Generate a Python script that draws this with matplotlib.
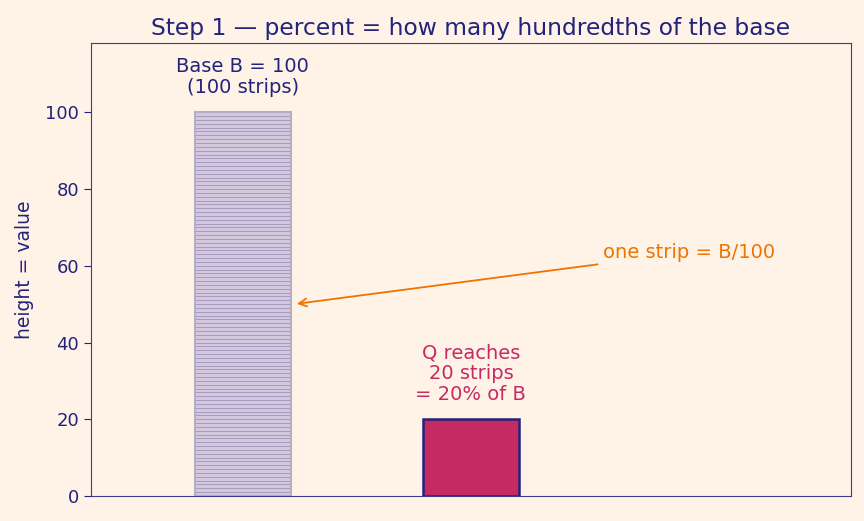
import matplotlib.pyplot as plt
import numpy as np

base_value = 100
part_value = 20
n_strips = 100
positions = [0, 1]
bar_width = 0.42

navy = "#22237a"
bg = "#fff3e8"
crimson = "#c62a62"
orange = "#ef7300"

fig, ax = plt.subplots(figsize=(8.64, 5.21), dpi=100)
fig.patch.set_facecolor(bg)
ax.set_facecolor(bg)

# base bar built from 100 thin strips
strip = base_value / n_strips
ax.bar(np.full(n_strips, positions[0]), np.full(n_strips, strip),
       bottom=np.arange(n_strips) * strip, width=bar_width,
       color="#d3c8de", edgecolor="#9c90b8", linewidth=0.5)
ax.bar(positions[0], base_value, width=bar_width, fill=False,
       edgecolor="#b8aec4", linewidth=1.5)

ax.bar(positions[1], part_value, width=bar_width, color=crimson,
       edgecolor=navy, linewidth=1.8)

fs = 14
ax.text(positions[0], base_value + 4, "Base B = 100\n(100 strips)",
        ha="center", va="bottom", color=navy, fontsize=fs, linespacing=1.1)
ax.text(positions[1], part_value + 4, "Q reaches\n20 strips\n= 20% of B",
        ha="center", va="bottom", color=crimson, fontsize=fs, linespacing=1.1)

ax.annotate("one strip = B/100", xy=(positions[0] + bar_width / 2 + 0.015, 50),
            xytext=(1.58, 63.5), ha="left", va="center", color=orange,
            fontsize=fs,
            arrowprops=dict(arrowstyle="->", color=orange, lw=1.3))

ax.set_xlim(-2 / 3, 8 / 3)
ax.set_ylim(0, 118)
ax.set_xticks([])
ax.set_yticks([0, 20, 40, 60, 80, 100])
ax.tick_params(axis="y", colors=navy, labelsize=13, length=5)
ax.set_ylabel("height = value", color=navy, fontsize=13.5, labelpad=8)
ax.set_title("Step 1 — percent = how many hundredths of the base",
             color=navy, fontsize=16.8)
for s in ax.spines.values():
    s.set_color("#3b3b8f")

fig.subplots_adjust(left=0.105, right=0.985, top=0.917, bottom=0.048)
fig.savefig("out.png", facecolor=bg)
